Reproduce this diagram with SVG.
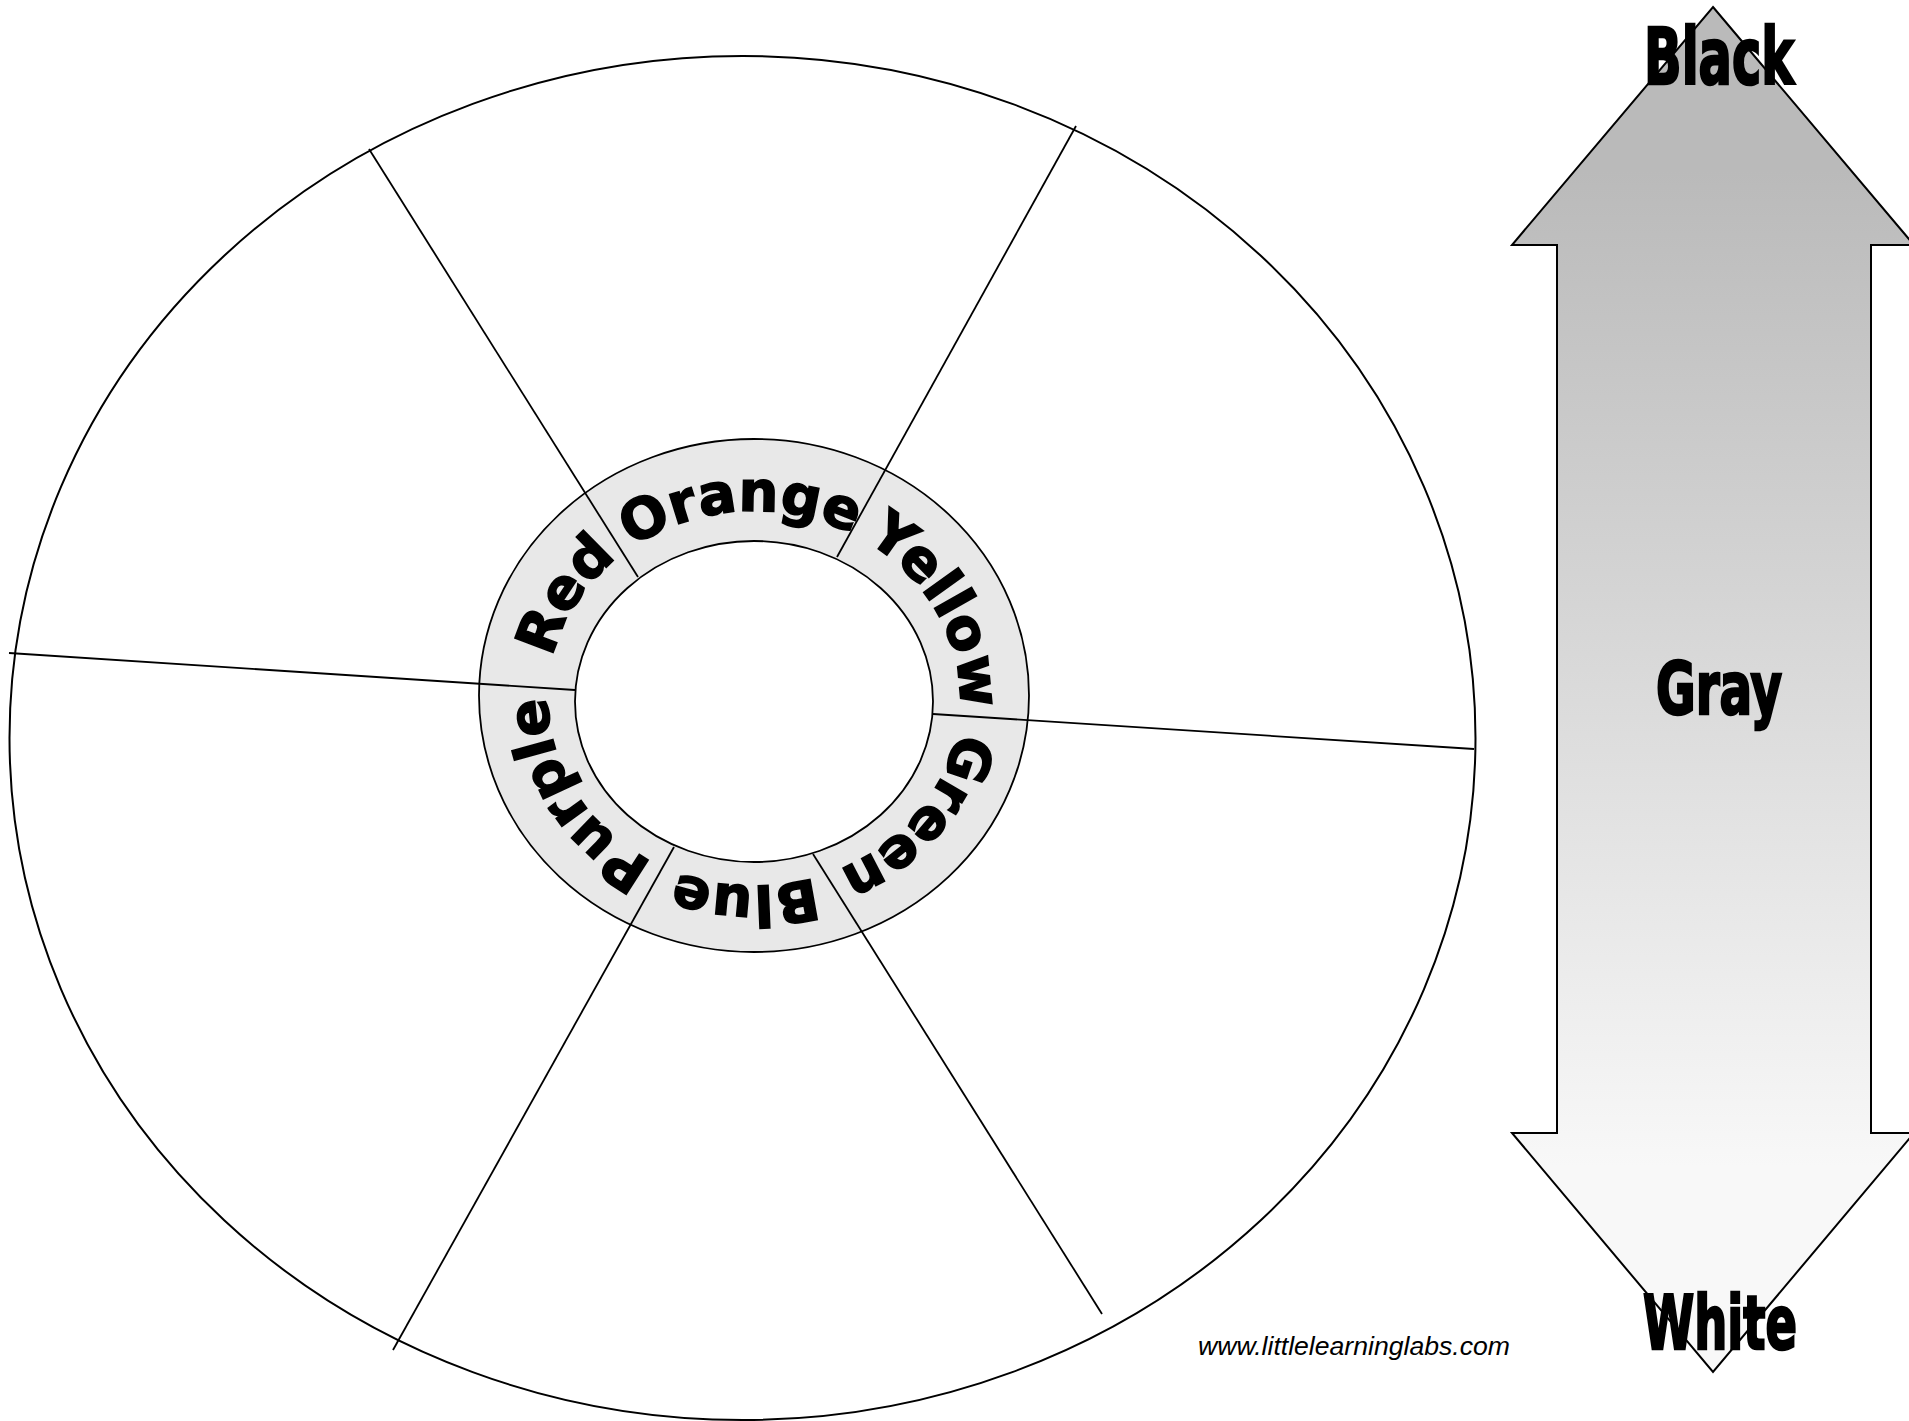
<svg xmlns="http://www.w3.org/2000/svg" width="1909" height="1421" viewBox="0 0 1909 1421">
<style>
.ln{fill:none;stroke:#000;stroke-width:2}
.sp{stroke:#000;stroke-width:1.8;fill:none}
.ring{font-family:"DejaVu Sans","Liberation Sans",sans-serif;font-weight:bold;font-size:56px;fill:#000;stroke:#000;stroke-width:1.6}
.big{font-family:"Liberation Sans Narrow","DejaVu Sans Condensed","Liberation Sans",sans-serif;font-weight:bold;fill:#000;stroke:#000;stroke-width:2.5}
.url{font-family:"Liberation Sans",Arial,sans-serif;font-style:italic;font-size:25px;fill:#000}
</style>
<defs>
<linearGradient id="grad" gradientUnits="userSpaceOnUse" x1="0" y1="7" x2="0" y2="1372">
<stop offset="0.12" stop-color="#bababa"/>
<stop offset="0.85" stop-color="#f8f8f8"/>
</linearGradient>
<path id="pRed" d="M577.2,795.2 A206,187.5 0 0 1 750.4,511.0"/>
<path id="pOrange" d="M568.9,616.3 A206,187.5 0 0 1 924.8,593.7"/>
<path id="pYellow" d="M768.4,511.5 A206,187.5 0 0 1 924.8,803.3"/>
<path id="pGreen" d="M942.9,623.7 A206,187.5 0 0 1 730.7,884.8"/>
<path id="pBlue" d="M927.7,799.2 A206,187.5 0 0 1 571.3,785.1"/>
<path id="pPurple" d="M750.4,886.0 A206,187.5 0 0 1 577.4,601.9"/>
</defs>
<rect width="1909" height="1421" fill="#fff"/>
<g id="wheel">
<ellipse class="ln" cx="742.5" cy="738" rx="733" ry="682" fill="#fff"/>
</g>
<g id="ring">
<ellipse cx="754" cy="695.5" rx="275" ry="256.5" fill="#e8e8e8" stroke="#000" stroke-width="1.8"/>
<ellipse cx="754" cy="701.5" rx="179" ry="160.5" fill="#fff" stroke="#000" stroke-width="1.8"/>
</g>
<g id="connectors">
<line class="sp" x1="369" y1="149" x2="638" y2="577"/>
<line class="sp" x1="1076" y1="126" x2="837" y2="557"/>
<line class="sp" x1="9" y1="653" x2="575" y2="690"/>
<line class="sp" x1="933" y1="714" x2="1474" y2="749"/>
<line class="sp" x1="674" y1="847" x2="393" y2="1350"/>
<line class="sp" x1="813" y1="854" x2="1102" y2="1314"/>
</g>
<g id="label-red"><text class="ring"><textPath href="#pRed" startOffset="50%" text-anchor="middle">Red</textPath></text></g>
<g id="label-orange"><text class="ring"><textPath href="#pOrange" startOffset="50%" text-anchor="middle">Orange</textPath></text></g>
<g id="label-yellow"><text class="ring"><textPath href="#pYellow" startOffset="50%" text-anchor="middle">Yellow</textPath></text></g>
<g id="label-green"><text class="ring"><textPath href="#pGreen" startOffset="50%" text-anchor="middle">Green</textPath></text></g>
<g id="label-blue"><text class="ring"><textPath href="#pBlue" startOffset="50%" text-anchor="middle">Blue</textPath></text></g>
<g id="label-purple"><text class="ring"><textPath href="#pPurple" startOffset="50%" text-anchor="middle">Purple</textPath></text></g>
<g id="scale-arrow">
<polygon points="1713,7 1914,245 1871,245 1871,1133 1914,1133 1713,1372 1512,1133 1557,1133 1557,245 1512,245" fill="url(#grad)" stroke="#000" stroke-width="2" stroke-linejoin="miter"/>
<text class="big" x="1644" y="84" font-size="78" textLength="150" lengthAdjust="spacingAndGlyphs">Black</text>
<text class="big" x="1656" y="714" font-size="73" textLength="126" lengthAdjust="spacingAndGlyphs">Gray</text>
<text class="big" x="1643" y="1349" font-size="75" textLength="154" lengthAdjust="spacingAndGlyphs">White</text>
</g>
<g id="credit">
<text class="url" x="1198" y="1355" textLength="312" lengthAdjust="spacingAndGlyphs">www.littlelearninglabs.com</text>
</g>
</svg>
